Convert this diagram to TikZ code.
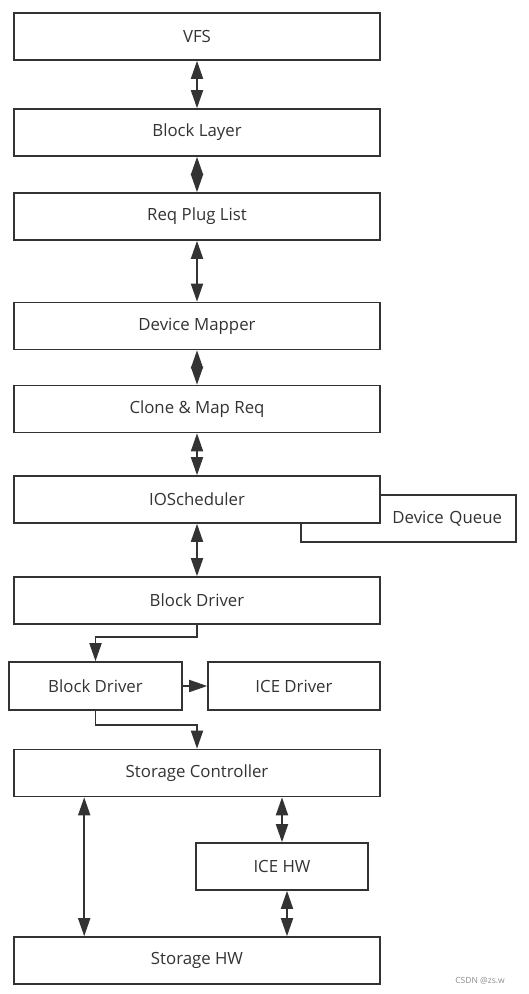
\documentclass[tikz,border=0pt]{standalone}
\usepackage{fontspec}
\setmainfont{Open Sans}
\usetikzlibrary{arrows.meta}
\definecolor{ink}{HTML}{333333}

\begin{document}
\begin{tikzpicture}[x=1pt, y=-1pt, >={Triangle[length=18pt,width=12pt]},
    layer/.style={draw=ink, line width=1.6pt, fill=white, inner sep=0pt,
        minimum height=47pt, text=ink, font=\fontsize{16.8}{20}\selectfont},
    wide/.style={layer, minimum width=366pt},
    narrow/.style={layer, minimum width=172pt},
    link/.style={draw=ink, line width=1.8pt}]
        \useasboundingbox (0,0) rectangle (529,994);

        % Upper stack
        \node[wide] (vfs) at (197,36.5) {VFS};
        \node[wide] (blayer) at (197,132.5) {Block Layer};
        \node[wide] (plug) at (197,216.5) {Req Plug List};
        \node[wide] (dm) at (197,326) {Device Mapper};
        \node[wide] (clone) at (197,409) {Clone \& Map Req};

        % Scheduler, queue sits behind it
        \node[layer, inner xsep=14pt, text width=187pt, align=right] (devq) at (408.5,518.5) {Device Queue};
        \node[wide] (iosched) at (197,499.5) {IOScheduler};
        \node[wide] (bdrv) at (197,600.5) {Block Driver};

        % Drivers
        \node[narrow, minimum width=173pt, minimum height=48pt] (bdrv2) at (95.5,686) {Block Driver};
        \node[narrow, minimum height=48pt] (icedrv) at (294,686) {ICE Driver};

        % Hardware
        \node[wide] (stctrl) at (197,773) {Storage Controller};
        \node[narrow] (icehw) at (282,866.5) {ICE HW};
        \node[wide] (sthw) at (197,960.5) {Storage HW};

        \draw[link, <->] (vfs) -- (blayer);
        \draw[link, <->] (blayer) -- (plug);
        \draw[link, <->] (plug) -- (dm);
        \draw[link, <->] (dm) -- (clone);
        \draw[link, <->] (clone) -- (iosched);
        \draw[link, <->] (iosched) -- (bdrv);
        \draw[link, ->] (bdrv.south) -- ++(0,12) -| (bdrv2.north);
        \draw[link, ->] (bdrv2) -- (icedrv);
        \draw[link, ->] (bdrv2.south) -- ++(0,14) -| (stctrl.north);
        \draw[link, <->] ([xshift=71pt]stctrl.south west) -- ([xshift=71pt]sthw.north west);
        \draw[link, <->] (icehw.north |- stctrl.south) -- (icehw.north);
        \draw[link, <->] ([xshift=5pt]icehw.south) -- ([xshift=5pt]icehw.south |- sthw.north);

        \node[text=black!45, font=\fontsize{8.5}{10}\selectfont] (mark) at (480,981) {CSDN @zs.w};
\end{tikzpicture}
\end{document}
